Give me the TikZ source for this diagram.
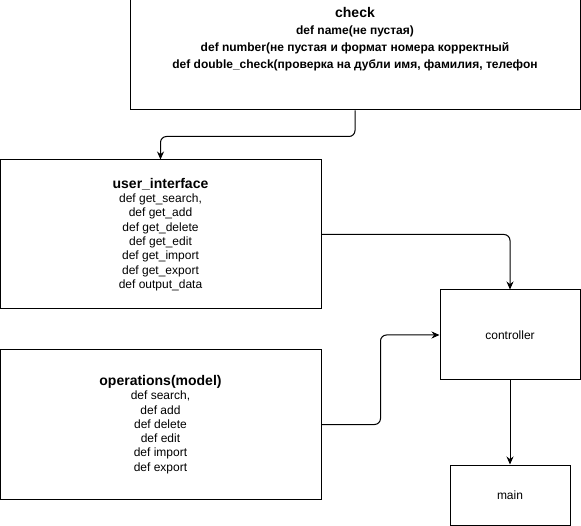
\documentclass[tikz,border=0pt]{standalone}
\usepackage{fontspec}
\setmainfont{Liberation Sans}
\usetikzlibrary{positioning,arrows.meta}

\begin{document}
\begin{tikzpicture}[
 x=1pt, y=-1pt,
 box/.style={draw, rectangle, line width=1pt, fill=white, align=center, inner sep=2pt,
   font=\fontsize{12}{14.3}\selectfont},
 arrow/.style={-{Stealth[length=8pt,width=7pt]}, line width=1pt, rounded corners=6pt}
]
\useasboundingbox (0,0) rectangle (581,526);

% check
\node[box, minimum width=450, minimum height=110] (check) at (355,55) {};
\node[align=center, anchor=north, inner sep=0pt, font=\fontsize{12}{17}\selectfont\bfseries] (checktext) at (355,7) {
{\fontsize{14}{17}\selectfont check}\\
def name(не пустая)\\
def number(не пустая и формат номера корректный\\
def double\_check(проверка на дубли имя, фамилия, телефон
};

% user_interface
\node[box, minimum width=321, minimum height=149] (ui) at (160.5,234.5) {
{\fontsize{14}{16}\selectfont\bfseries user\_interface}\\
def get\_search,\\
def get\_add\\
def get\_delete\\
def get\_edit\\
def get\_import\\
def get\_export\\
def output\_data
};

% operations(model)
\node[box, minimum width=321, minimum height=149] (ops) at (160.5,424.5) {
{\fontsize{14}{16}\selectfont\bfseries operations(model)}\\
def search,\\
def add\\
def delete\\
def edit\\
def import\\
def export
};

% controller, main
\node[box, minimum width=140, minimum height=90] (ctrl) at (510,335) {controller};
\node[box, minimum width=120, minimum height=60] (main) at (510,495) {main};

% стрелки
\draw[arrow] (check.south) -- ++(0,26) -| (ui.north);
\draw[arrow] (ui.east) -| (ctrl.north);
\draw[arrow] (ops.east) -- ++(59,0) |- (ctrl.west);
\draw[arrow] (ctrl) -- (main);

\end{tikzpicture}
\end{document}
